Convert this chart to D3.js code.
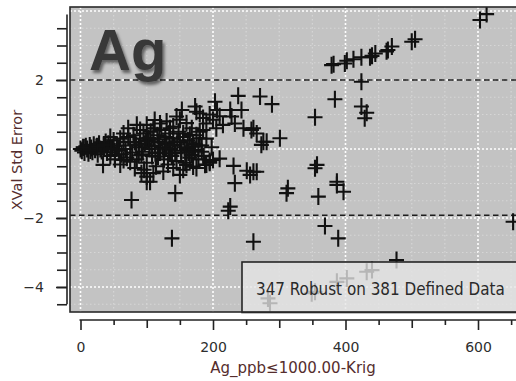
<!DOCTYPE html>
<html>
<head>
<meta charset="utf-8">
<script src="https://cdn.jsdelivr.net/npm/d3@7"></script>
<style>
  body { margin: 0; background: #fff; }
  text { font-family: "DejaVu Sans", sans-serif; }
</style>
</head>
<body>
<div id="chart"></div>
<script>
// Ag_ppb value vs cross-validation std error
var agPpb = [
  // upper trend
  603, 613, 505, 500, 470, 464, 462, 445, 440, 437, 424, 412, 402, 399, 382, 379,
  // scattered
  424, 384, 424, 432, 429, 354, 271, 289, 261, 273, 276, 301, 357, 354, 261, 387, 313,
  238, 203, 206, 175, 180, 226, 228, 243, 233, 246, 258, 266, 281, 190, 185, 180, 170,
  168, 170, 188, 200, 231, 251, 256, 266, 233, 226, 311, 359, 387, 223, 261, 397, 369,
  389, 477, 653,
  // under the legend box
  432, 440, 402, 387, 354, 349, 286, 283,
  // left side
  77, 143, 138, 100, 34, 105, 100, 92, 150, 160, 75, 65, 52, 135,
  72, 85, 112, 120, 145, 153, 173, 140, 155, 165,
  // dense cluster
  0, 2, 4, 6, 8, 10, 12, 14, 16, 18, 20, 22, 24, 26, 28, 30, 32, 35, 38, 40,
  42, 45, 48, 50, 52, 55, 58, 60, 62, 65, 68, 70, 72, 75, 78, 80, 82, 85, 88, 90,
  92, 95, 97, 100, 102, 104, 106, 108, 110, 112, 114, 116, 118, 120, 122, 124, 126, 128, 130, 132,
  134, 136, 138, 140, 142, 145, 148, 150, 152, 155, 158, 160, 162, 165, 168, 170, 172, 175, 178, 180,
  183, 186, 190, 195, 198,
  60, 82, 96, 110, 125, 140, 155, 175, 190,
  45, 65, 90, 100, 110, 130, 135, 150, 160, 185, 195, 200, 210, 215, 205,
  210, 195, 152, 157, 163, 168, 173, 178, 183,
  84, 94, 99, 107, 113, 119, 127, 133, 139, 146, 88, 103, 117, 129, 143, 5, 15, 25, 36, 46
]
var xvalErr = [
  3.74, 3.91, 3.18, 3.11, 2.97, 2.87, 2.83, 2.77, 2.70, 2.66, 2.66, 2.60, 2.56, 2.48, 2.46, 2.43,
  1.95, 1.44, 1.23, 1.05, 0.89, 0.92, 1.52, 1.30, 0.60, 0.12, 0.21, 0.31, -0.46, -0.56, -0.66, -0.95, -1.14,
  1.54, 1.37, 1.13, 1.08, 1.03, 1.13, 0.94, 1.13, 0.74, 0.60, 0.55, 0.45, 0.21, 0.74, 0.55, 0.31, 0.07,
  -0.17, -0.51, -0.46, -0.32, -0.49, -0.63, -0.75, -0.66, -0.99, -1.67, -1.28, -1.38, -1.04, -1.79, -2.69, -1.24, -2.23,
  -2.59, -3.22, -2.11,
  -3.56, -3.51, -3.75, -3.85, -4.14, -4.18, -4.47, -4.33,
  -1.48, -1.28, -2.59, -0.95, -0.46, -0.95, -0.80, -0.70, -0.75, -0.46, -0.37, -0.32, -0.17, -0.13,
  0.60, 0.70, 0.84, 0.74, 0.94, 1.13, 1.23, 0.65, 0.45, 0.41,
  0.0, -0.05, 0.05, -0.1, 0.08, 0.0, -0.12, 0.1, 0.03, -0.08, 0.12, -0.02, 0.06, -0.15, 0.15, 0.0, -0.06, 0.09, 0.2, -0.1,
  0.15, -0.2, 0.05, 0.25, -0.3, 0.1, -0.05, 0.3, -0.15, 0.2, 0.0, -0.25, 0.35, 0.1, -0.1, 0.4, 0.2, -0.3, 0.05, 0.3,
  -0.15, 0.45, 0.15, -0.4, 0.25, 0.0, 0.5, -0.2, 0.3, 0.1, -0.5, 0.4, 0.2, -0.1, 0.55, 0.05, -0.3, 0.35, 0.15, -0.45,
  0.45, 0.0, -0.2, 0.3, 0.1, -0.35, 0.5, 0.2, -0.1, 0.35, -0.4, 0.0, 0.25, -0.25, 0.6, 0.15, -0.05, 0.4, -0.3, 0.5,
  0.1, -0.2, 0.3, -0.4, 0.05,
  -0.45, -0.55, -0.6, -0.7, -0.65, -0.55, -0.6, -0.55, -0.45,
  0.35, 0.45, 0.55, 0.7, 0.6, 0.8, 0.6, 0.85, 0.75, 0.9, 1.0, 0.85, 0.95, 0.7, 0.6,
  -0.28, -0.35, -0.05, 0.05, -0.1, 0.08, -0.02, 0.1, -0.08,
  0.12, -0.08, 0.22, 0.08, -0.12, 0.28, 0.18, -0.02, 0.12, 0.22, -0.18, 0.32, -0.22, 0.02, -0.12, 0.04, -0.04, 0.08, 0.12, 0.0
]
var yLabelTicks = [-4, -2, 0, 2]
var xLabelTicks = [0, 200, 400, 600]
var limitLines = [2.0, -1.92]
var bigLabel = 'Ag'
var legendText = '347 Robust on 381 Defined Data'
var xTitle = 'Ag_ppb\u22641000.00-Krig'
var yTitle = 'XVal Std Error'

var points = agPpb.map(function (d, i) { return { x: d, y: xvalErr[i] } })

var width = 516, height = 381
var plot = { left: 70, top: 7, right: 530, bottom: 312 }

var svg = d3.select('#chart').append('svg')
    .attr('width', width)
    .attr('height', height)

var xScale = d3.scaleLinear().domain([0, 600]).range([80.5, 478])
var yScale = d3.scaleLinear().domain([-4, 2]).range([287, 80])

var defs = svg.append('defs')
defs.append('clipPath').attr('id', 'plotClip')
    .append('rect')
    .attr('x', plot.left).attr('y', plot.top)
    .attr('width', plot.right - plot.left).attr('height', plot.bottom - plot.top)
defs.append('filter').attr('id', 'shadow')
    .attr('x', '-20%').attr('y', '-20%').attr('width', '140%').attr('height', '140%')
    .append('feDropShadow')
    .attr('dx', 2).attr('dy', 3).attr('stdDeviation', 1.8)
    .attr('flood-color', '#000').attr('flood-opacity', 0.5)

// plot background
svg.append('rect')
    .attr('x', plot.left).attr('y', plot.top)
    .attr('width', plot.right - plot.left).attr('height', plot.bottom - plot.top)
    .attr('fill', '#c3c3c3')

var grid = svg.append('g').attr('clip-path', 'url(#plotClip)')
var xGridVals = d3.range(0, 700, 50)
var yGridVals = d3.range(-4.5, 4.5, 0.5)

grid.selectAll('.vgrid')
    .data(xGridVals)
    .enter().append('line')
    .attr('class', 'vgrid')
    .attr('x1', d => xScale(d)).attr('x2', d => xScale(d))
    .attr('y1', plot.top).attr('y2', plot.bottom)
    .attr('stroke', d => d % 200 == 0 ? '#ffffff' : '#d6d6d6')
    .attr('stroke-width', d => d % 200 == 0 ? 1.6 : 1.2)
    .attr('stroke-dasharray', d => d % 200 == 0 ? '2,2' : '1.5,2.5')

grid.selectAll('.hgrid')
    .data(yGridVals)
    .enter().append('line')
    .attr('class', 'hgrid')
    .attr('y1', d => yScale(d)).attr('y2', d => yScale(d))
    .attr('x1', plot.left).attr('x2', plot.right)
    .attr('stroke', d => d % 2 == 0 ? '#ffffff' : '#d6d6d6')
    .attr('stroke-width', d => d % 2 == 0 ? 1.6 : 1.2)
    .attr('stroke-dasharray', d => d % 2 == 0 ? '2,2' : '1.5,2.5')

// dashed limit lines
grid.selectAll('.limit')
    .data(limitLines)
    .enter().append('line')
    .attr('class', 'limit')
    .attr('y1', d => yScale(d)).attr('y2', d => yScale(d))
    .attr('x1', plot.left).attr('x2', plot.right)
    .attr('stroke', '#1e1e1e')
    .attr('stroke-width', 1.6)
    .attr('stroke-dasharray', '5.5,3.5')

// big element label
svg.append('text')
    .attr('x', 89).attr('y', 70)
    .style('font-family', '"Liberation Sans", Arial, sans-serif')
    .style('font-weight', 'bold')
    .style('font-size', '58px')
    .attr('fill', '#383838')
    .attr('filter', 'url(#shadow)')
    .text(bigLabel)

// markers
var arm = 7.5
var marks = grid.selectAll('.pt')
    .data(points)
    .enter().append('path')
    .attr('class', 'pt')
    .attr('d', d => {
        var px = xScale(d.x), py = yScale(d.y)
        return 'M' + (px - arm) + ',' + py + 'H' + (px + arm) + 'M' + px + ',' + (py - arm - 1) + 'V' + (py + arm + 1)
    })
    .attr('stroke', '#111')
    .attr('stroke-width', 2.1)
    .attr('fill', 'none')

// legend box (semi transparent, points show through)
var legend = svg.append('g')
legend.append('rect')
    .attr('x', 242).attr('y', 262)
    .attr('width', 300).attr('height', 50.5)
    .attr('fill', '#e6e6e6')
    .attr('fill-opacity', 0.78)
    .attr('stroke', '#262626')
    .attr('stroke-width', 1.6)
legend.append('text')
    .attr('x', 256).attr('y', 294.5)
    .style('font-family', '"DejaVu Sans Condensed", "DejaVu Sans", sans-serif')
    .style('font-stretch', 'condensed')
    .style('font-size', '16.9px')
    .attr('fill', '#2a2a2a')
    .text(legendText)

// plot frame
svg.append('rect')
    .attr('x', plot.left).attr('y', plot.top)
    .attr('width', plot.right - plot.left).attr('height', plot.bottom - plot.top)
    .attr('fill', 'none')
    .attr('stroke', '#2a2a2a')
    .attr('stroke-width', 1.6)

// Y axis
var yAxisG = svg.append('g').attr('transform', 'translate(67,0)')
yAxisG.append('line')
    .attr('x1', 0).attr('x2', 0)
    .attr('y1', yScale(3.9)).attr('y2', yScale(-4.5))
    .attr('stroke', '#222').attr('stroke-width', 1.6)
yAxisG.append('g')
    .call(d3.axisLeft(yScale).tickValues(d3.range(-4.5, 4, 0.5)).tickSize(10).tickFormat(''))
yAxisG.append('g')
    .call(d3.axisLeft(yScale).tickValues(yLabelTicks).tickSize(11).tickPadding(12).tickFormat(d3.format('d')))
yAxisG.selectAll('.domain').remove()
yAxisG.selectAll('.tick line').attr('stroke', '#222').attr('stroke-width', 1.6)
yAxisG.selectAll('.tick text')
    .style('font-size', '14px')
    .attr('fill', '#2e2e2e')

// X axis
var xAxisG = svg.append('g').attr('transform', 'translate(0,320)')
xAxisG.append('line')
    .attr('x1', xScale(0) - 1).attr('x2', width)
    .attr('y1', 0).attr('y2', 0)
    .attr('stroke', '#222').attr('stroke-width', 1.6)
xAxisG.append('g')
    .call(d3.axisBottom(xScale).tickValues(d3.range(50, 700, 100)).tickSize(5).tickFormat(''))
xAxisG.append('g')
    .call(d3.axisBottom(xScale).tickValues([100, 300, 500]).tickSize(8).tickFormat(''))
xAxisG.append('g')
    .call(d3.axisBottom(xScale).tickValues(xLabelTicks).tickSize(10).tickPadding(12).tickFormat(d3.format('d')))
xAxisG.selectAll('.domain').remove()
xAxisG.selectAll('.tick line').attr('stroke', '#222').attr('stroke-width', 1.6)
xAxisG.selectAll('.tick text')
    .style('font-size', '14px')
    .attr('fill', '#2e2e2e')

// axis titles
svg.append('text')
    .attr('x', 293).attr('y', 373)
    .attr('text-anchor', 'middle')
    .style('font-size', '15px')
    .attr('fill', '#552d2d')
    .text(xTitle)

svg.append('text')
    .attr('transform', 'translate(22,160) rotate(-90)')
    .attr('text-anchor', 'middle')
    .style('font-size', '14.5px')
    .attr('fill', '#552d2d')
    .text(yTitle)
</script>
</body>
</html>
